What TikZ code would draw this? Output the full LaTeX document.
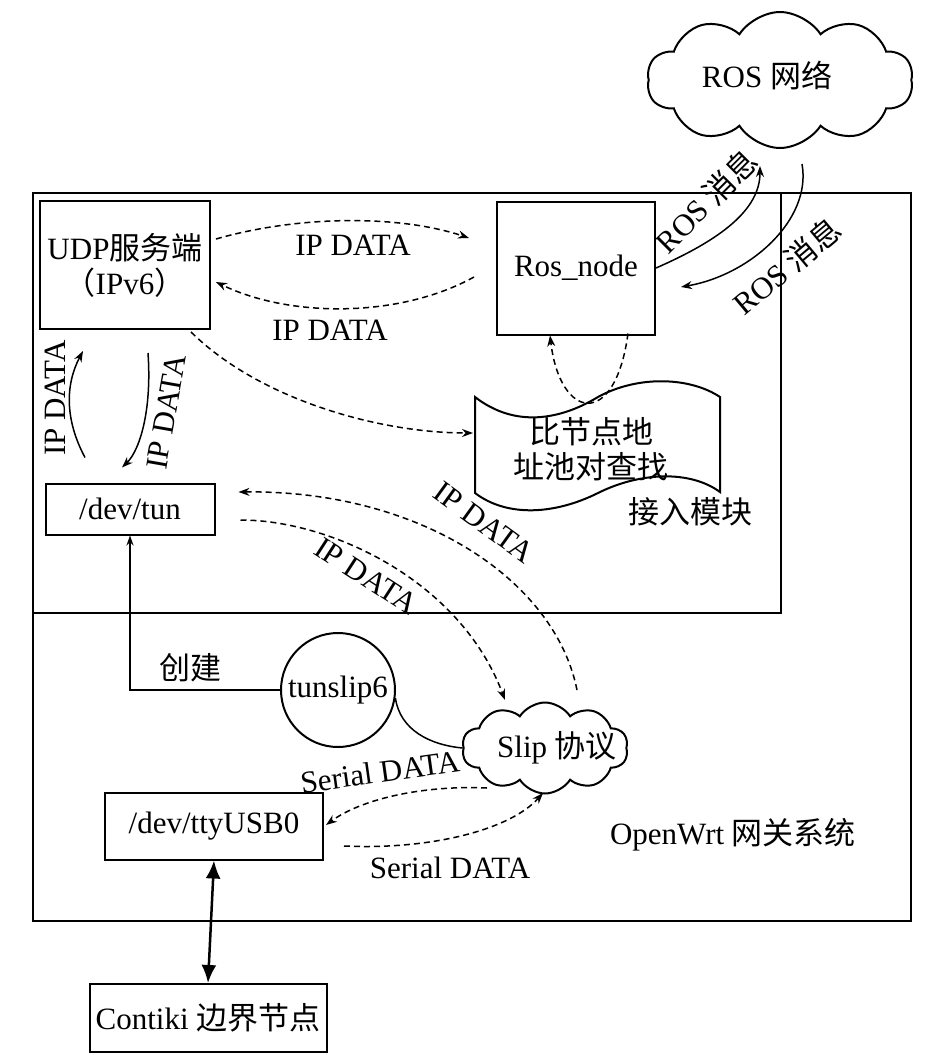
\documentclass[tikz,border=0pt]{standalone}
\usepackage{fontspec}
\setmainfont{Liberation Serif}
\newfontfamily\cjk{Noto Sans CJK SC}
\usetikzlibrary{shapes.symbols,arrows.meta,calc}
\begin{document}
\begin{tikzpicture}[x=1pt,y=-1pt,
  font=\fontsize{31}{35}\selectfont,
  frame/.style={draw,line width=2pt,inner sep=0pt},
  box/.style={draw,line width=2pt,inner sep=0pt,align=center},
  dflow/.style={line width=1.5pt,dash pattern=on 6pt off 4pt,-{Stealth[length=11pt,width=8pt]}},
  sflow/.style={line width=1.5pt,-{Stealth[length=11pt,width=8pt]}},
  lbl/.style={inner sep=0pt},
  cloudbox/.style={cloud,draw,line width=2pt,cloud puffs=10,cloud puff arc=115,inner sep=0pt},
]
\useasboundingbox (0,0) rectangle (945,1055);
% frames
\node[frame,minimum width=878,minimum height=728] (gw) at (472,557) {};
\node[frame,minimum width=748,minimum height=420] (host) at (407,403) {};
% boxes
\node[box,minimum width=170,minimum height=128] (udp) at (125,265) {UDP{\cjk 服务端}\\{\cjk （}IPv6{\cjk ）}};
\node[box,minimum width=158,minimum height=133] (ros) at (576,268) {Ros\_node};
\node[box,minimum width=169,minimum height=51] (tun) at (130,509) {/dev/tun};
\node[box,minimum width=218,minimum height=67] (tty) at (214,826) {/dev/ttyUSB0};
\node[box,minimum width=237,minimum height=68] (ctk) at (208,1018) {Contiki {\cjk 边界节点}};
\node[circle,draw,line width=2pt,minimum size=114,inner sep=0pt] (ts) at (338,690) {tunslip6};
% clouds
\node[cloudbox,minimum width=266,minimum height=136] (rosnet) at (780,80) {};
\node[lbl] (rosnettext) at (767,75) {ROS {\cjk 网络}};
\node[cloudbox,minimum width=166,minimum height=91] (slip) at (545,748) {};
\node[lbl] (sliptext) at (557,748) {Slip {\cjk 协议}};
% document shape
\draw[line width=2pt] (475,397) .. controls (515,428) and (560,420) .. (598,397)
  .. controls (638,375) and (690,377) .. (720,397) -- (720,492)
  .. controls (690,470) and (640,472) .. (598,493)
  .. controls (556,514) and (508,518) .. (475,493) -- cycle;
\coordinate (docL) at (473,433);
\node[lbl,align=center] (doc) at (591,449) {\cjk 比节点地\\\cjk 址池对查找};
\node[lbl] (docname) at (690,512) {\cjk 接入模块};
% connectors
\draw[dflow] ($(udp.east)+(5,-26)$) .. controls (300,215) and (400,215) .. ($(ros.west)+(-27,-30)$);
\draw[dflow] ($(ros.west)+(-22,9)$) .. controls (400,318) and (290,318) .. ($(udp.east)+(5,17)$);
\draw[dflow] ($(udp.south east)+(-20,2)$) .. controls (260,400) and (380,433) .. (docL);
\draw[sflow] ($(tun.north)+(-45,-25)$) .. controls (65,420) and (65,385) .. ($(udp.south)+(-42,21)$);
\draw[sflow] ($(udp.south)+(23,23)$) .. controls (152,410) and (140,450) .. ($(tun.north)+(-8,-15)$);
\draw[dflow] ($(ros.south)+(52,-2)$) .. controls (615,430) and (560,420) .. ($(ros.south)+(-26,0)$);
\draw[sflow] (ros.east) .. controls (720,240) and (760,210) .. ($(rosnet.south)+(-20,17)$);
\draw[sflow] ($(rosnet.south)+(22,15)$) .. controls (812,220) and (750,275) .. ($(ros.east)+(25,19)$);
\draw[dflow] ($(tun.east)+(25,11)$) .. controls (330,520) and (460,580) .. ($(slip.center)+(-40,-48)$);
\draw[dflow] ($(slip.center)+(32,-58)$) .. controls (555,580) and (420,490) .. ($(tun.east)+(23,-17)$);
\draw[dflow] ($(slip.center)+(-58,40)$) .. controls (420,785) and (360,800) .. ($(tty.east)+(2,-1)$);
\draw[dflow] ($(tty.east)+(20,20)$) .. controls (430,850) and (510,830) .. ($(slip.center)+(-2,45)$);
\draw[line width=1.5pt,-{Stealth[length=10pt,width=7pt]}] (ts.west) -| (tun.south);
\draw[line width=1.5pt] (ts.-8) .. controls (400,730) and (430,745) .. (slip.west);
\draw[line width=2.5pt,{Latex[length=18pt,width=15pt]}-{Latex[length=18pt,width=15pt]}] (tty.south) -- (ctk.north);
% labels
\node[lbl] (l1) at (353,245) {IP DATA};
\node[lbl] (l2) at (330,330) {IP DATA};
\node[lbl,rotate=90] (l3) at (55,398) {IP DATA};
\node[lbl,rotate=80] (l4) at (166,412) {IP DATA};
\node[lbl,rotate=45] (l5) at (706,201) {ROS {\cjk 消息}};
\node[lbl,rotate=40] (l6) at (787,266) {ROS {\cjk 消息}};
\node[lbl,rotate=-36] (l7) at (484,522) {IP DATA};
\node[lbl,rotate=-33] (l8) at (366,576) {IP DATA};
\node[lbl,rotate=8] (l9) at (380,772) {Serial DATA};
\node[lbl] (l10) at (450,868) {Serial DATA};
\node[lbl] (l11) at (190,668) {\cjk 创建};
\node[lbl] (l12) at (733,835) {OpenWrt {\cjk 网关系统}};
\end{tikzpicture}
\end{document}
